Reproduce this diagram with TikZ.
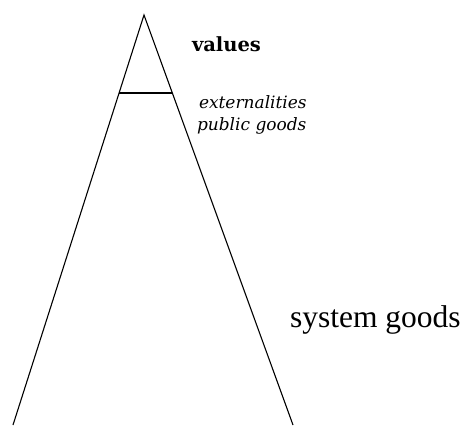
\documentclass[tikz,border=0pt]{standalone}
\usepackage{fontspec}
\setmainfont{Liberation Serif}
\newfontfamily\slabfont{DejaVu Serif}
\usetikzlibrary{calc}
\begin{document}
\begin{tikzpicture}[x=1pt,y=-1pt,
  side/.style={line width=1.1pt},
  bar/.style={line width=1.8pt},
  lbl/.style={anchor=base west,inner sep=0pt,outer sep=0pt},
  big/.style={lbl,font=\slabfont\bfseries\fontsize{19.5}{22}\selectfont},
  note/.style={lbl,font=\slabfont\itshape\fontsize{17}{19}\selectfont},
  sys/.style={lbl,font=\fontsize{31.5}{34}\selectfont}]
\useasboundingbox (0,0) rectangle (465,427);
\coordinate (apex) at (144,15);
\coordinate (bl) at (13,425);
\coordinate (br) at (293,425);
\coordinate (cl) at ($(apex)!0.1895!(bl)$);
\coordinate (cr) at ($(apex)!0.1895!(br)$);
\draw[side] (bl) -- (apex) -- (br);
\draw[bar] (cl) -- (cr);
\node[big] (values) at (192,52) {values};
\node[note] (ext) at (199,109) {externalities};
\node[note] (pub) at (197,131) {public goods};
\node[sys] (sysg) at (290,327) {system goods};
\end{tikzpicture}
\end{document}
